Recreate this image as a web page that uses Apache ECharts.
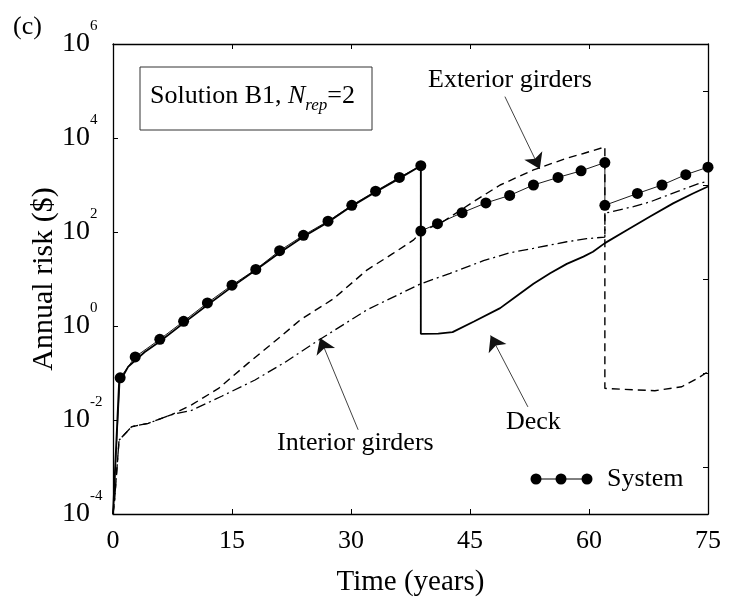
<!DOCTYPE html>
<html>
<head>
<meta charset="utf-8">
<script src="https://cdn.jsdelivr.net/npm/echarts@6/dist/echarts.min.js"></script>
<style>
  html, body { margin: 0; padding: 0; background: #fff; }
  #chart { width: 729px; height: 602px; }
</style>
</head>
<body>
<div id="chart"></div>
<script>
// Annual risk over the service life, Solution B1 with two repairs
const systemYears = [0, 0.9, 2.8, 5.9, 8.9, 11.9, 15.0, 18.0, 21.0, 24.0, 27.1, 30.1, 33.1, 36.1, 38.8, 38.8, 40.9, 44.0, 47.0, 50.0, 53.0, 56.1, 59.0, 62.0, 62.0, 66.1, 69.2, 72.2, 75.0];
const systemRisk  = [1e-4, 0.079, 0.22, 0.52, 1.26, 3.1, 7.4, 16, 40, 85, 170, 370, 740, 1450, 2570, 105, 150, 257, 415, 600, 1000, 1450, 2000, 3000, 370, 660, 1000, 1660, 2400];

const deckYears = [0, 0.76, 1.9, 4.0, 5.9, 8.9, 11.9, 15, 18, 21, 24, 27, 30, 33, 36, 38.8, 38.8, 41.0, 42.8, 45.5, 48.8, 50.5, 53.0, 55.1, 57.2, 59.3, 60.5, 62.0, 64.8, 67.7, 70.6, 73.1, 75];
const deckRisk  = [1e-4, 0.06, 0.135, 0.28, 0.47, 1.15, 2.8, 6.8, 15.5, 36, 79, 158, 347, 690, 1350, 2570, 0.68, 0.69, 0.74, 1.25, 2.4, 3.9, 7.9, 13.2, 21, 30, 38, 58, 110, 214, 407, 660, 930];

const exteriorYears = [0, 0.2, 0.76, 2.35, 4.45, 7.4, 9.9, 13.3, 17.0, 21.3, 23.6, 27.8, 32.0, 35.3, 37.9, 38.8, 41.6, 45.5, 48.8, 53.0, 57.2, 59.3, 62.0, 62.0, 64.3, 68.3, 71.7, 73.8, 75];
const exteriorRisk  = [1e-4, 2e-4, 0.0037, 0.0072, 0.0085, 0.013, 0.021, 0.047, 0.16, 0.63, 1.35, 3.8, 15.5, 35, 68, 100, 166, 447, 1000, 2090, 3720, 4680, 6460, 0.047, 0.045, 0.042, 0.051, 0.079, 0.107];

const interiorYears = [0, 0.2, 0.76, 2.35, 4.45, 7.4, 9.9, 13.7, 17.9, 21.7, 25.5, 32.0, 38.7, 42.5, 46.7, 50.0, 53.0, 57.2, 59.7, 62.0, 62.0, 65.6, 67.7, 71.1, 74.0, 75.0];
const interiorRisk  = [1e-4, 2e-4, 0.0037, 0.0072, 0.0085, 0.013, 0.016, 0.032, 0.071, 0.17, 0.45, 2.2, 7.8, 13.2, 24.5, 36, 45, 62, 72, 78, 250, 347, 437, 724, 1100, 1200];

const xTicks = [0, 15, 30, 45, 60, 75];
const yLabelTicks = [1e-4, 1e-2, 1, 1e2, 1e4, 1e6];
const yOddTicks = [1e-3, 1e-1, 1e1, 1e3, 1e5];

// callout arrows: [tail, head] in (years, risk)
const exteriorArrow = [[49.4, 75900], [53.8, 2190]];
const interiorArrow = [[30.9, 0.0062], [26.1, 0.556]];
const deckArrow     = [[52.3, 0.019], [47.6, 0.63]];

const pairs = (xs, ys) => xs.map((x, i) => [x, ys[i]]);
const SERIF = '"Liberation Serif", "Times New Roman", serif';

const chart = echarts.init(document.getElementById('chart'), null, { renderer: 'canvas' });

const exponentOf = v => String(Math.round(Math.log10(v)));

const arrowLine = (a) => [{ coord: a[0] }, { coord: a[1] }];

const systemData = pairs(systemYears, systemRisk).map((p, i) =>
  i === 0 ? { value: p, symbol: 'none' } : { value: p });

const frameLine = { show: true, onZero: false, lineStyle: { color: '#000', width: 1.3 } };
const innerTick = (vals) => ({ show: true, inside: true, length: 5, customValues: vals, lineStyle: { color: '#000', width: 1 } });

chart.setOption({
  animation: false,
  backgroundColor: '#fff',
  grid: { left: 113, top: 44, right: 21, bottom: 88, containLabel: false },
  xAxis: [{
    type: 'value', min: 0, max: 75, interval: 15, position: 'bottom',
    name: 'Time (years)', nameLocation: 'middle', nameGap: 54,
    nameTextStyle: { fontFamily: SERIF, fontSize: 29, color: '#000' },
    axisLine: frameLine,
    axisTick: innerTick(xTicks),
    axisLabel: { fontFamily: SERIF, fontSize: 26, color: '#000', margin: 14, showMinLabel: true, showMaxLabel: true,
                 customValues: xTicks },
    splitLine: { show: false }
  }, {
    type: 'value', min: 0, max: 75, interval: 15, position: 'top',
    axisLine: frameLine,
    axisTick: innerTick(xTicks),
    axisLabel: { show: false },
    splitLine: { show: false }
  }],
  yAxis: [{
    // mantissa "10" of each decade label
    type: 'log', logBase: 10, min: 1e-4, max: 1e6, position: 'left',
    name: 'Annual risk ($)', nameLocation: 'middle', nameGap: 54, nameRotate: 90, nameMoveOverlap: false,
    nameTextStyle: { fontFamily: SERIF, fontSize: 30, color: '#000' },
    axisLine: frameLine,
    axisTick: innerTick(yLabelTicks),
    axisLabel: {
      customValues: yLabelTicks, margin: 23, color: '#000', fontFamily: SERIF, fontSize: 28,
      align: 'right', verticalAlign: 'middle', padding: [12, 0, 0, 0],
      formatter: () => '10'
    },
    splitLine: { show: false }
  }, {
    type: 'log', logBase: 10, min: 1e-4, max: 1e6, position: 'right',
    axisLine: frameLine,
    axisTick: innerTick(yOddTicks),
    axisLabel: { show: false },
    splitLine: { show: false }
  }, {
    // superscript exponents of the decade labels
    type: 'log', logBase: 10, min: 1e-4, max: 1e6, position: 'left',
    axisLine: { show: false }, axisTick: { show: false },
    axisLabel: {
      customValues: yLabelTicks, margin: 23, color: '#000', fontFamily: SERIF, fontSize: 15,
      align: 'left', verticalAlign: 'bottom', padding: [0, 0, 10, 0],
      formatter: exponentOf
    },
    splitLine: { show: false }
  }],
  series: [{
    name: 'Exterior girders', type: 'line', data: pairs(exteriorYears, exteriorRisk),
    showSymbol: false, symbol: 'none', z: 2,
    lineStyle: { color: '#000', width: 1.4, type: [8, 5] }
  }, {
    name: 'Interior girders', type: 'line', data: pairs(interiorYears, interiorRisk),
    showSymbol: false, symbol: 'none', z: 2,
    lineStyle: { color: '#000', width: 1.3, type: [10, 4, 2, 4] }
  }, {
    name: 'Deck', type: 'line', data: pairs(deckYears, deckRisk),
    showSymbol: false, symbol: 'none', z: 3,
    lineStyle: { color: '#000', width: 1.8 }
  }, {
    name: 'System', type: 'line', data: systemData,
    symbol: 'circle', symbolSize: 11, showAllSymbol: true, z: 4,
    itemStyle: { color: '#000' },
    lineStyle: { color: '#000', width: 0.9 }
  }, {
    name: 'callouts', type: 'line', data: [], z: 5,
    markLine: {
      silent: true, animation: false,
      symbol: ['none', 'arrow'], symbolSize: 15,
      label: { show: false },
      lineStyle: { color: '#111', width: 0.8, type: 'solid' },
      data: [arrowLine(exteriorArrow), arrowLine(interiorArrow), arrowLine(deckArrow)]
    }
  }],
  graphic: [
    { type: 'text', x: 13, y: 27, style: { text: '(c)', font: '26px ' + SERIF, fill: '#000', verticalAlign: 'middle' } },
    { type: 'rect', shape: { x: 140, y: 67, width: 232, height: 63 }, style: { fill: '#fff', stroke: '#333', lineWidth: 1 }, z: 10 },
    { type: 'text', x: 150, y: 98, z: 11, style: {
        text: '{n|Solution B1, }{i|N}{s|rep}{n|=2}', verticalAlign: 'middle', fill: '#000',
        rich: {
          n: { fontFamily: SERIF, fontSize: 26, lineHeight: 30, verticalAlign: 'top' },
          i: { fontFamily: SERIF, fontSize: 26, fontStyle: 'italic', lineHeight: 30, verticalAlign: 'top' },
          s: { fontFamily: SERIF, fontSize: 17, fontStyle: 'italic', lineHeight: 16, padding: [14, 0, 0, 0], verticalAlign: 'top' }
        } } },
    { type: 'text', x: 428, y: 80, z: 11, style: { text: 'Exterior girders', font: '26px ' + SERIF, fill: '#000', verticalAlign: 'middle' } },
    { type: 'text', x: 277, y: 443, z: 11, style: { text: 'Interior girders', font: '26px ' + SERIF, fill: '#000', verticalAlign: 'middle' } },
    { type: 'text', x: 506, y: 422, z: 11, style: { text: 'Deck', font: '26px ' + SERIF, fill: '#000', verticalAlign: 'middle' } },
    { type: 'line', z: 11, shape: { x1: 536, y1: 479, x2: 587, y2: 479 }, style: { stroke: '#000', lineWidth: 1 } },
    { type: 'circle', z: 11, shape: { cx: 536, cy: 479, r: 5.5 }, style: { fill: '#000' } },
    { type: 'circle', z: 11, shape: { cx: 561, cy: 479, r: 5.5 }, style: { fill: '#000' } },
    { type: 'circle', z: 11, shape: { cx: 587, cy: 479, r: 5.5 }, style: { fill: '#000' } },
    { type: 'text', x: 607, y: 479, z: 11, style: { text: 'System', font: '26px ' + SERIF, fill: '#000', verticalAlign: 'middle' } }
  ]
});
</script>
</body>
</html>
